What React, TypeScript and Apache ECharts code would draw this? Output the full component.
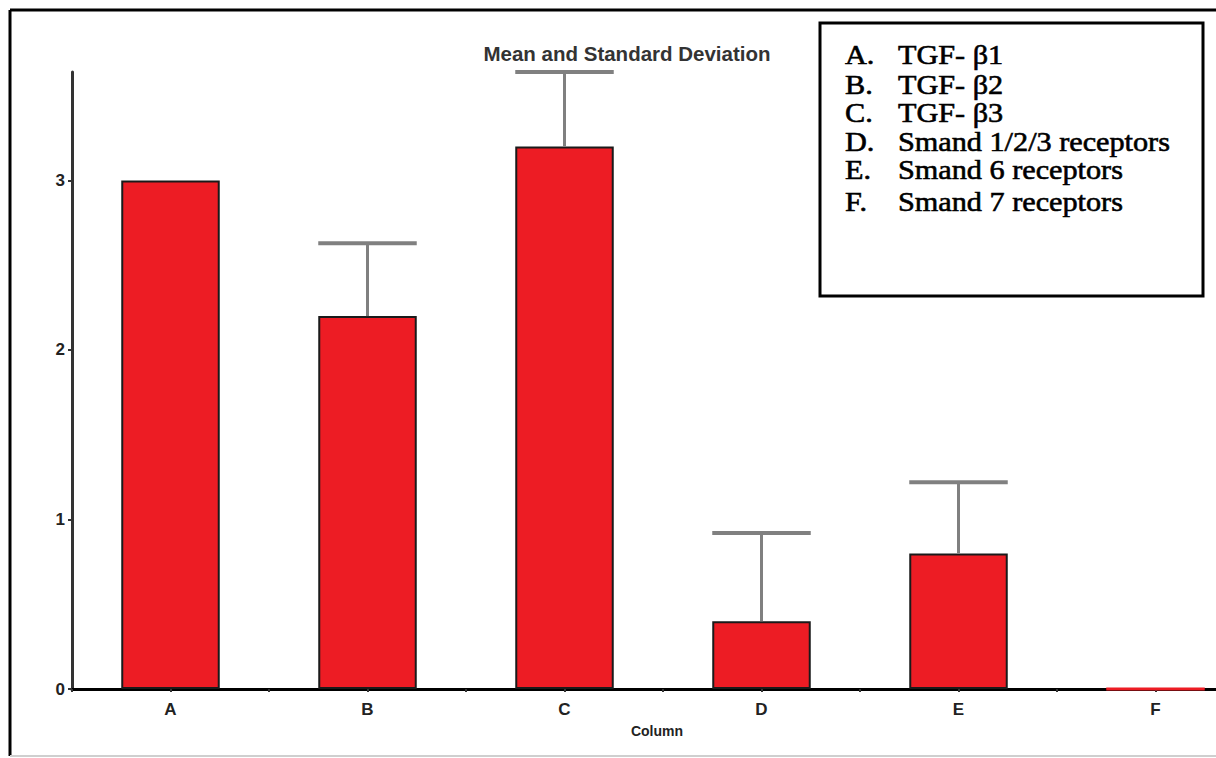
import React, { useEffect, useRef } from "react";
import * as echarts from "echarts";

const categories = ["A", "B", "C", "D", "E", "F"];
const means = [3.0, 2.2, 3.2, 0.4, 0.8, 0];
const sds = [0, 0.43, 0.44, 0.52, 0.42, 0];
const yTicks = [0, 1, 2, 3];
const yMax = 3.64;
const legendKeys = ["A.", "B.", "C.", "D.", "E.", "F."];
const legendLabels = [
  "TGF- β1",
  "TGF- β2",
  "TGF- β3",
  "Smand 1/2/3 receptors",
  "Smand 6 receptors",
  "Smand 7 receptors",
];
const titleText = "Mean and Standard Deviation";
const xAxisName = "Column";

const legendRowY = [54, 84, 112, 141, 169, 201];

export default function App() {
  const ref = useRef<HTMLDivElement>(null);
  useEffect(() => {
    if (!ref.current) return;
    const chart = echarts.init(ref.current, null, { renderer: "svg" });
    const sansBold = { fontFamily: "Liberation Sans", fontWeight: "bold" as const };
    const legendStyle = {
      fontFamily: "Liberation Serif",
      fontSize: 28,
      fill: "#000",
      stroke: "#000",
      lineWidth: 0.6,
      verticalAlign: "middle" as const,
    };
    const legendChildren: any[] = [];
    legendKeys.forEach((k, i) => {
      legendChildren.push({
        type: "text",
        x: 845,
        y: legendRowY[i],
        scaleX: 1.08,
        style: { ...legendStyle, text: k },
      });
      legendChildren.push({
        type: "text",
        x: 898,
        y: legendRowY[i],
        scaleX: 1.08,
        style: { ...legendStyle, text: legendLabels[i] },
      });
    });
    chart.setOption({
      animation: false,
      backgroundColor: "#fff",
      grid: { left: 72, top: 72, bottom: 69, right: 6, containLabel: false },
      xAxis: [
        {
          type: "category",
          data: categories,
          boundaryGap: true,
          axisLine: { show: true, lineStyle: { color: "#000", width: 3 } },
          axisTick: { show: false },
          axisLabel: { ...sansBold, fontSize: 17, color: "#222", margin: 12 },
          name: xAxisName,
          nameLocation: "middle",
          nameGap: 35,
          nameTextStyle: { ...sansBold, fontSize: 14, color: "#222", padding: [0, 12, 0, 0] },
          splitLine: { show: false },
        },
        {
          type: "category",
          data: ["", "", "", "", "", "", "", "", "", "", "", ""],
          position: "bottom",
          boundaryGap: true,
          axisLine: { show: false },
          axisTick: { show: true, interval: 0, length: 3, lineStyle: { color: "#333", width: 2 } },
          axisLabel: { show: false },
          splitLine: { show: false },
        },
      ],
      yAxis: {
        type: "value",
        min: 0,
        max: yMax,
        interval: 1,
        axisLine: { show: true, lineStyle: { color: "#333", width: 3 } },
        axisTick: { show: true, length: 4, customValues: yTicks, lineStyle: { color: "#333", width: 2 } },
        axisLabel: { ...sansBold, fontSize: 17, color: "#222", margin: 7, customValues: yTicks },
        splitLine: { show: false },
      },
      series: [
        {
          type: "bar",
          xAxisIndex: 0,
          barWidth: "50%",
          data: means.map((v) =>
            v === 0
              ? { value: v, itemStyle: { borderColor: "#ED1C24", borderWidth: 3 } }
              : v
          ),
          itemStyle: { color: "#ED1C24", borderColor: "#1a1a1a", borderWidth: 2 },
          z: 3,
        },
        {
          type: "custom",
          xAxisIndex: 0,
          z: 4,
          data: categories.map((c, i) => [i, means[i], sds[i]]),
          encode: { x: 0, y: 1 },
          renderItem: (params: any, api: any) => {
            const x = api.value(0);
            const m = api.value(1);
            const s = api.value(2);
            if (!s) return { type: "group", children: [] };
            const base = api.coord([x, m]);
            const top = api.coord([x, m + s]);
            const w = api.size([1, 0])[0] * 0.5;
            return {
              type: "group",
              children: [
                {
                  type: "line",
                  shape: { x1: base[0], y1: base[1], x2: top[0], y2: top[1] },
                  style: { stroke: "#808080", lineWidth: 3 },
                },
                {
                  type: "line",
                  shape: { x1: top[0] - w / 2, y1: top[1], x2: top[0] + w / 2, y2: top[1] },
                  style: { stroke: "#808080", lineWidth: 4 },
                },
              ],
            };
          },
        },
      ],
      graphic: [
        { type: "line", shape: { x1: 10, y1: 10, x2: 1260, y2: 10 }, style: { stroke: "#000", lineWidth: 3 } },
        { type: "line", shape: { x1: 10, y1: 10, x2: 10, y2: 756 }, style: { stroke: "#000", lineWidth: 3 } },
        { type: "line", shape: { x1: 10, y1: 756, x2: 1260, y2: 756 }, style: { stroke: "#cfcfcf", lineWidth: 2 } },
        {
          type: "text",
          x: 627,
          y: 53,
          style: {
            text: titleText,
            fontFamily: "Liberation Sans",
            fontWeight: "bold",
            fontSize: 20.5,
            fill: "#333",
            align: "center",
            verticalAlign: "middle",
          },
        },
        {
          type: "rect",
          shape: { x: 820, y: 23, width: 383, height: 273 },
          style: { fill: "#fff", stroke: "#000", lineWidth: 3 },
        },
        ...legendChildren,
      ],
    });
    return () => chart.dispose();
  }, []);
  return (
    <div
      style={{
        position: "absolute",
        left: 0,
        top: 0,
        width: 1216,
        height: 758,
        overflow: "hidden",
        background: "#fff",
      }}
    >
      <div ref={ref} style={{ width: 1260, height: 758 }} />
    </div>
  );
}
